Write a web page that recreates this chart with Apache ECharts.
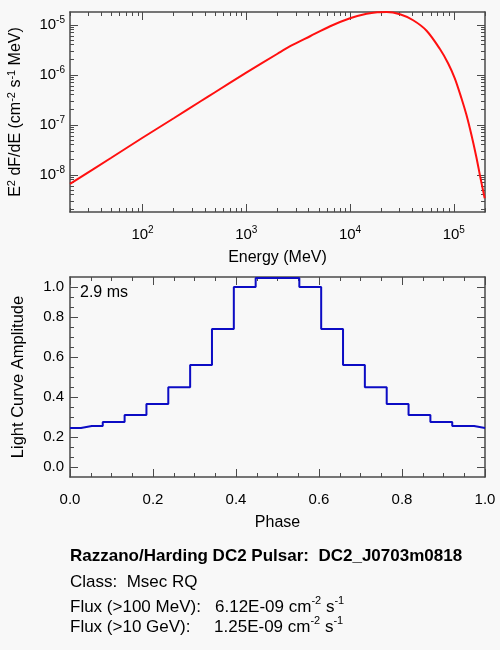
<!DOCTYPE html>
<html>
<head>
<meta charset="utf-8">
<script src="https://cdn.jsdelivr.net/npm/echarts@6/dist/echarts.min.js"></script>
<style>
    html, body { margin: 0; padding: 0; background: #f8f8f8; }
    #chart { width: 500px; height: 650px; }
</style>
</head>
<body>
<div id="chart"></div>
<script>
// spectrum (MeV, cm^-2 s^-1 MeV)
var energy = [20, 50, 100, 200, 360, 500, 1000, 2000, 2650, 4120, 6430, 10000, 14450, 18300, 22500,
    30300, 40600, 54700, 73300, 88100, 102300, 118600, 132400, 147900, 165200, 180300, 198600];
var e2dfde = [6.6e-9, 2.19e-8, 5.5e-8, 1.35e-7, 2.92e-7, 4.47e-7, 1.1e-6, 2.63e-6, 3.72e-6, 5.89e-6, 9.33e-6, 1.35e-5, 1.66e-5, 1.78e-5, 1.8e-5,
    1.62e-5, 1.23e-5, 7.6e-6, 3.31e-6, 1.7e-6, 8.5e-7, 3.39e-7, 1.58e-7, 6.3e-8, 2.24e-8, 8.9e-9, 3.4e-9];
var energyTicks = [100, 1000, 10000, 100000];
var fluxTicks = [1e-8, 1e-7, 1e-6, 1e-5];

// light curve, one value per phase bin
var phase = [0, 0.0526, 0.1053, 0.1579, 0.2105, 0.2632, 0.3158, 0.3684, 0.4211, 0.4737,
    0.5263, 0.5789, 0.6316, 0.6842, 0.7368, 0.7895, 0.8421, 0.8947, 0.9474, 1];
var amplitude = [0.245, 0.255, 0.275, 0.31, 0.365, 0.449, 0.56, 0.74, 0.95, 0.995,
    0.995, 0.95, 0.74, 0.56, 0.449, 0.365, 0.31, 0.275, 0.255, 0.245];
var ampMajorTicks = [0.05, 0.2, 0.4, 0.6, 0.8, 0.95];

var axisColor = '#4a4a4a';
var fontName = 'Liberation Sans';

function minorLog(lo, hi) {
    var out = [];
    for (var d = Math.floor(Math.log10(lo)); d <= Math.ceil(Math.log10(hi)); d++) {
        for (var m = 2; m <= 9; m++) {
            var v = m * Math.pow(10, d);
            if (v >= lo && v <= hi) out.push(v);
        }
    }
    return out;
}
function powLabel(v) {
    return '10{s|' + Math.round(Math.log10(v)) + '}';
}
var supRich = { s: { fontSize: 10, lineHeight: 10, verticalAlign: 'top', color: '#000' } };
var lineStyle = { color: axisColor, width: 1.5 };
var tickStyle = { color: axisColor, width: 1 };

// one axis of the IDL-style box; ticks always inward
function boxAxis(type, grid, pos, min, max, ticks, len, showLine) {
    var a = {
        type: type, gridIndex: grid, position: pos, min: min, max: max,
        axisLine: { show: showLine, onZero: false, lineStyle: lineStyle },
        axisTick: { show: true, inside: true, length: len, lineStyle: tickStyle },
        axisLabel: { show: false },
        splitLine: { show: false }
    };
    if (ticks) a.axisTick.customValues = ticks;
    return a;
}

var eMin = 20, eMax = 2e5, fMin = 1.8e-9, fMax = 1.8e-5;

var xBottom = boxAxis('log', 0, 'bottom', eMin, eMax, energyTicks, 8, true);
xBottom.axisLabel = {
    customValues: energyTicks, formatter: powLabel, margin: 13, fontSize: 15,
    lineHeight: 20, color: '#000', rich: supRich
};
xBottom.name = 'Energy (MeV)';
xBottom.nameLocation = 'middle';
xBottom.nameGap = 38;
xBottom.nameTextStyle = { fontSize: 16, color: '#000' };

var yLeft = boxAxis('log', 0, 'left', fMin, fMax, fluxTicks, 8, true);
yLeft.axisLabel = {
    customValues: fluxTicks, formatter: powLabel, margin: 5, fontSize: 15,
    lineHeight: 20, color: '#000', rich: supRich
};
yLeft.name = 'E{s|2} dF/dE (cm{s|-2} s{s|-1} MeV)';
yLeft.nameLocation = 'middle';
yLeft.nameGap = 44;
yLeft.nameTextStyle = {
    fontSize: 16, color: '#000', lineHeight: 20,
    rich: { s: { fontSize: 11, lineHeight: 10, verticalAlign: 'top', color: '#000' } }
};

var phBottom = boxAxis('value', 1, 'bottom', 0, 1, null, 8, true);
phBottom.interval = 0.2;
phBottom.minorTick = { show: true, splitNumber: 4, length: 4, lineStyle: tickStyle };
phBottom.axisLabel = { formatter: function (v) { return v.toFixed(1); }, margin: 15, fontSize: 15, color: '#000' };
phBottom.name = 'Phase';
phBottom.nameLocation = 'middle';
phBottom.nameGap = 38;
phBottom.nameTextStyle = { fontSize: 16, color: '#000' };

var phTop = boxAxis('value', 1, 'top', 0, 1, null, 8, true);
phTop.interval = 0.2;
phTop.minorTick = { show: true, splitNumber: 4, length: 4, lineStyle: tickStyle };

var ampLeft = boxAxis('value', 1, 'left', 0, 1, ampMajorTicks, 8, true);
ampLeft.interval = 0.2;
ampLeft.minorTick = { show: true, splitNumber: 4, length: 4, lineStyle: tickStyle };
ampLeft.axisLabel = {
    interval: 0, margin: 6, fontSize: 15, color: '#000',
    formatter: function (v) {
        if (v === 1) return '{hi|1.0}';
        if (v === 0) return '{lo|0.0}';
        return v.toFixed(1);
    },
    rich: { hi: { padding: [20, 0, 0, 0] }, lo: { padding: [0, 0, 20, 0] } }
};
ampLeft.name = 'Light Curve Amplitude';
ampLeft.nameLocation = 'middle';
ampLeft.nameGap = 43;
ampLeft.nameTextStyle = { fontSize: 16.5, color: '#000' };

var ampRight = boxAxis('value', 1, 'right', 0, 1, ampMajorTicks, 8, true);
ampRight.interval = 0.2;
ampRight.minorTick = { show: true, splitNumber: 4, length: 4, lineStyle: tickStyle };

var eMinor = minorLog(eMin, eMax);
var fMinor = minorLog(fMin, fMax);

var footRich = { s: { fontSize: 11, lineHeight: 8, verticalAlign: 'top', fill: '#000' } };

var option = {
    animation: false,
    backgroundColor: '#f8f8f8',
    textStyle: { fontFamily: fontName },
    grid: [
        { left: 70, top: 12, width: 415, height: 200, outerBoundsMode: 'none' },
        { left: 70, top: 277, width: 415, height: 200, outerBoundsMode: 'none' }
    ],
    xAxis: [
        xBottom,
        boxAxis('log', 0, 'bottom', eMin, eMax, eMinor, 4, false),
        boxAxis('log', 0, 'top', eMin, eMax, energyTicks, 8, true),
        boxAxis('log', 0, 'top', eMin, eMax, eMinor, 4, false),
        phBottom,
        phTop
    ],
    yAxis: [
        yLeft,
        boxAxis('log', 0, 'left', fMin, fMax, fMinor, 4, false),
        boxAxis('log', 0, 'right', fMin, fMax, fluxTicks, 8, true),
        boxAxis('log', 0, 'right', fMin, fMax, fMinor, 4, false),
        ampLeft,
        ampRight
    ],
    series: [
        {
            type: 'line', xAxisIndex: 0, yAxisIndex: 0,
            data: energy.map(function (e, i) { return [e, e2dfde[i]]; }),
            smooth: 0.3, symbol: 'none', clip: true,
            lineStyle: { color: '#ff1010', width: 2 }
        },
        {
            type: 'line', xAxisIndex: 4, yAxisIndex: 4,
            data: phase.map(function (p, i) { return [p, amplitude[i]]; }),
            step: 'middle', symbol: 'none',
            lineStyle: { color: '#0c0cc4', width: 2 }
        }
    ],
    graphic: [
        { type: 'text', x: 80, y: 292.5, style: { text: '2.9 ms', fontSize: 16, fontFamily: fontName, fill: '#000', verticalAlign: 'middle' } },
        { type: 'text', x: 70, y: 556, style: { text: 'Razzano/Harding DC2 Pulsar:  DC2_J0703m0818', fontSize: 17, fontWeight: 'bold', fontFamily: fontName, fill: '#000', verticalAlign: 'middle' } },
        { type: 'text', x: 70, y: 582, style: { text: 'Class:  Msec RQ', fontSize: 17, fontFamily: fontName, fill: '#000', verticalAlign: 'middle' } },
        { type: 'text', x: 70, y: 607, style: { text: 'Flux (>100 MeV):   6.12E-09 cm{s|-2} s{s|-1}', fontSize: 17, lineHeight: 24, fontFamily: fontName, fill: '#000', verticalAlign: 'middle', rich: footRich } },
        { type: 'text', x: 70, y: 627, style: { text: 'Flux (>10 GeV):     1.25E-09 cm{s|-2} s{s|-1}', fontSize: 17, lineHeight: 24, fontFamily: fontName, fill: '#000', verticalAlign: 'middle', rich: footRich } }
    ]
};

var chart = echarts.init(document.getElementById('chart'));
chart.setOption(option);
</script>
</body>
</html>
